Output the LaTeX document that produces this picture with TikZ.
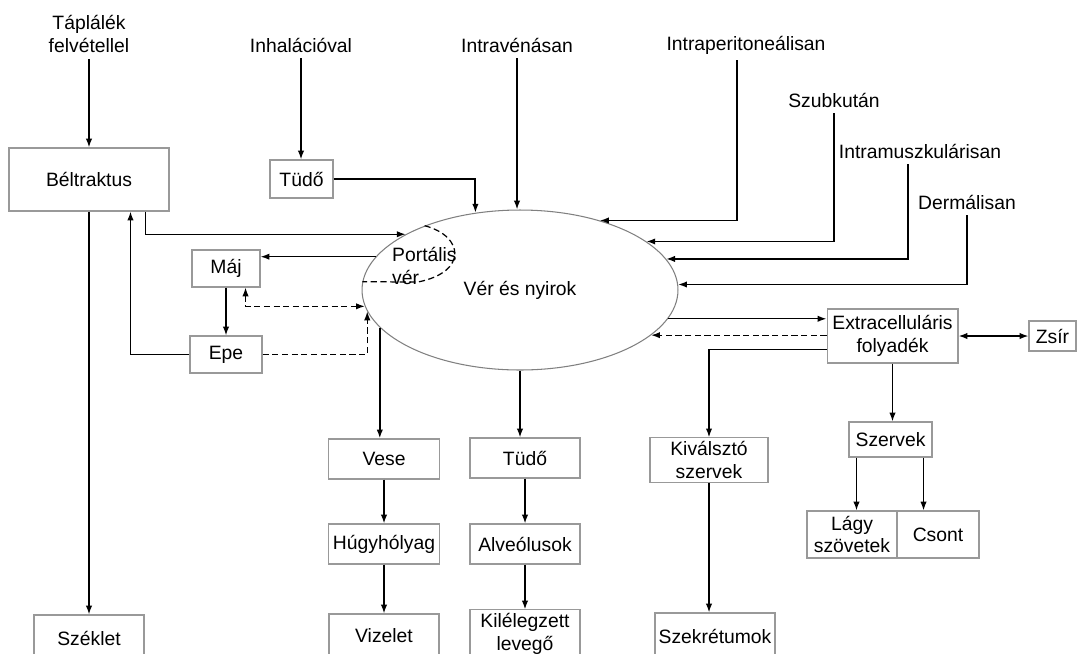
\documentclass[tikz,border=0pt]{standalone}
\usepackage{fontspec}
\setmainfont{Liberation Sans}
\usetikzlibrary{shapes.geometric,arrows.meta,calc}

\begin{document}
\begin{tikzpicture}[x=0.02cm, y=-0.02cm,
    font=\fontsize{11}{13}\selectfont,
    >={Latex[length=5pt,width=3.6pt]},
    box/.style={draw=gray!80, line width=0.6pt, align=center, inner sep=2pt},
    link/.style={->, line width=0.8pt},
    dashlink/.style={->, line width=0.7pt, dash pattern=on 3.5pt off 2pt}]
    \useasboundingbox (0,0) rectangle (1077,653);
    \clip (0,0) rectangle (1077,653);
    % blood and lymph
    \node[draw=gray, ellipse, line width=0.6pt, inner sep=0pt, minimum width=6.32cm, minimum height=3.2cm] at (520,290) (ell) {Vér és nyirok};
    \node[anchor=west, align=left] at (386,266) (port) {Portális\\vér};
    \draw[line width=0.7pt, dash pattern=on 3.5pt off 2pt] (ell.146) .. controls (464,236) and (468,272) .. (418,282) -- (ell.177);
    % routes of intake
    \node[align=center] at (89,34) (food) {Táplálék\\felvétellel};
    \node[box, minimum width=3.2cm, minimum height=1.26cm] at (89,179.5) (belt) {Béltraktus};
    \draw[link] (food.south) -- (food.south |- belt.north);
    \node at (301,45) (inh) {Inhalációval};
    \node[box, minimum width=1.26cm, minimum height=0.76cm] at (301.5,179) (tudo1) {Tüdő};
    \draw[link] (inh.south) -- (inh.south |- tudo1.north);
    \draw[link, line width=1.1pt] (tudo1.east) -| (ell.120);
    \node at (517,45) (iv) {Intravénásan};
    \draw[link] (iv.south) -- (iv.south |- ell.north);
    \node at (746,45) (ip) {Intraperitoneálisan};
    \draw[link] ($(ip.south)+(-9,0)$) |- (ell.41);
    \node at (834,100) (sc) {Szubkután};
    \draw[link] (sc.south) |- (ell.21);
    \node at (920,151) (im) {Intramuszkulárisan};
    \draw[link] ($(im.south)+(-12,0)$) |- (ell.12.5);
    \node at (967,202) (derm) {Dermálisan};
    \draw[link] (derm.south) |- (ell.2);
    % gut, liver, bile
    \draw[link] ($(belt.south east)+(-24,0)$) |- (ell.154);
    \node[box, minimum width=1.36cm, minimum height=0.74cm] at (226,268.5) (maj) {Máj};
    \node[box, minimum width=1.44cm, minimum height=0.74cm] at (226,354.5) (epe) {Epe};
    \draw[link] (ell.167) -- (ell.167 -| maj.east);
    \draw[link] (maj.south) -- (epe.north);
    \draw[link] (epe.west) -| ($(belt.south west)+(122,0)$);
    \draw[dashlink, <->] ($(maj.south east)+(-15,0)$) |- (ell.-174);
    \draw[dashlink] (epe.east) -| (ell.-172);
    \node[box, minimum width=2.2cm, minimum height=0.92cm] at (89,638) (szek) {Széklet};
    \draw[link] (belt.south) -- (szek.north);
    % kidney
    \node[box, minimum width=2.22cm, minimum height=0.8cm] at (384,459) (vese) {Vese};
    \node[box, minimum width=2.22cm, minimum height=0.8cm] at (384,544) (hugy) {Húgyhólyag};
    \node[box, minimum width=2.2cm, minimum height=0.88cm] at (384,636) (vizelet) {Vizelet};
    \draw[link, line width=1.1pt] (ell.-165) -- (ell.-165 |- vese.north);
    \draw[link] (vese.south) -- (hugy.north);
    \draw[link] (hugy.south) -- (vizelet.north);
    % lung
    \node[box, minimum width=2.2cm, minimum height=0.8cm] at (525,458) (tudo2) {Tüdő};
    \node[box, minimum width=2.2cm, minimum height=0.8cm] at (525,544) (alv) {Alveólusok};
    \node[box, minimum width=2.2cm, minimum height=0.96cm] at (525,634) (kil) {Kilélegzett\\levegő};
    \draw[link] (ell.south) -- (ell.south |- tudo2.north);
    \draw[link] (tudo2.south) -- (alv.north);
    \draw[link] (alv.south) -- (kil.north);
    % extracellular fluid
    \node[box, minimum width=2.62cm, minimum height=1.08cm] at (892.5,336) (ecf) {Extracelluláris\\folyadék};
    \node[box, minimum width=0.94cm, minimum height=0.6cm] at (1052.5,336) (zsir) {Zsír};
    \draw[link] (ell.-11) -- (ell.-11 -| ecf.west);
    \draw[dashlink] (ecf.west |- ell.-19) -- (ell.-19);
    \draw[<->, line width=0.8pt] (ecf.east) -- (zsir.west);
    \node[box, minimum width=2.36cm, minimum height=0.88cm] at (709,460) (kiv) {Kiválsztó\\szervek};
    \node[box, minimum width=2.4cm, minimum height=0.92cm] at (715,636) (szekr) {Szekrétumok};
    \draw[link] ($(ecf.south west)+(0,-14)$) -| (kiv.north);
    \draw[link] (kiv.south) -- (kiv.south |- szekr.north);
    \node[box, minimum width=1.66cm, minimum height=0.7cm] at (890.5,439.5) (szervek) {Szervek};
    \node[box, minimum width=1.8cm, minimum height=0.94cm] at (852,534.5) (lagy) {Lágy\\szövetek};
    \node[box, minimum width=1.64cm, minimum height=0.94cm] at (938,534.5) (csont) {Csont};
    \draw[link] (ecf.south) -- (ecf.south |- szervek.north);
    \draw[link] ($(szervek.south west)+(8,0)$) coordinate (sl) -- (sl |- lagy.north);
    \draw[link] ($(szervek.south east)+(-9,0)$) coordinate (sr) -- (sr |- csont.north);
\end{tikzpicture}
\end{document}
